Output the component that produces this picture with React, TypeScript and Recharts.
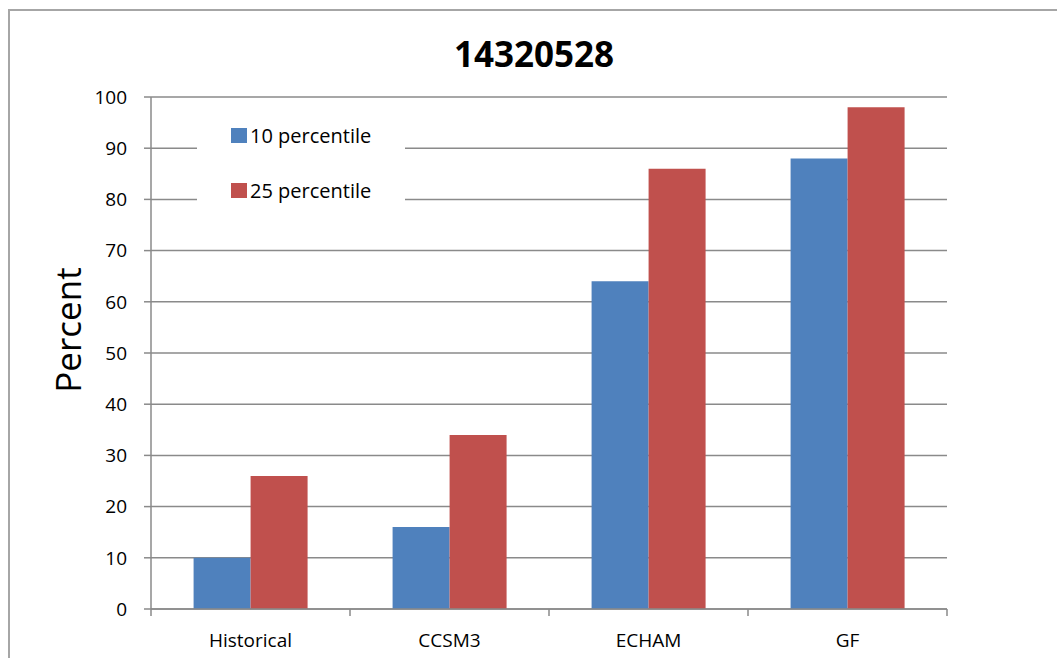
import React from "react";
import { BarChart, Bar, XAxis, YAxis, CartesianGrid, Legend } from "recharts";

// values
const categories = ["Historical", "CCSM3", "ECHAM", "GF"];
const p10 = [10, 16, 64, 88];
const p25 = [26, 34, 86, 98];
const yTicks = [0, 10, 20, 30, 40, 50, 60, 70, 80, 90, 100];

const chartData = categories.map((name, i) => ({ name, p10: p10[i], p25: p25[i] }));

const FONT = "'Open Sans', sans-serif";
const AXIS_GRAY = "#8a8a8a";

// category label plus the little tick marks on the band edges (Excel style)
function CategoryTick(props: any) {
    const { x, y, payload, index, visibleTicksCount } = props;
    const half = payload && payload.offset ? payload.offset : 99.5;
    const last = index === visibleTicksCount - 1;
    return (
        <g>
            <line x1={x - half} x2={x - half} y1={y} y2={y + 7} stroke={AXIS_GRAY} strokeWidth={1.5} />
            {last && <line x1={x + half} x2={x + half} y1={y} y2={y + 7} stroke={AXIS_GRAY} strokeWidth={1.5} />}
            <text x={x} y={y + 38} textAnchor="middle" fill="#000" fontSize={19} fontFamily={FONT}>
                {payload.value}
            </text>
        </g>
    );
}

function LegendBox({ payload }: any) {
    return (
        <div style={{ width: 208, height: 100, background: "#fff", position: "relative" }}>
            {(payload || []).map((entry: any, i: number) => (
                <div
                    key={`leg-${i}`}
                    style={{ position: "absolute", left: 34, top: 13 + i * 55, display: "flex", alignItems: "center", height: 20 }}
                >
                    <span style={{ width: 16, height: 15, background: entry.color, display: "inline-block" }} />
                    <span style={{ marginLeft: 3, fontFamily: FONT, fontSize: 20, color: "#000", whiteSpace: "nowrap" }}>
                        {entry.value}
                    </span>
                </div>
            ))}
        </div>
    );
}

export default function App() {
    return (
        <div style={{ position: "absolute", left: 0, top: 0, width: 1057, height: 658, background: "#fff", overflow: "hidden" }}>
            {/* outer chart frame, only left/top edges visible in the crop */}
            <div style={{ position: "absolute", left: 8, top: 9, width: 1100, height: 700, borderLeft: "2px solid #a6a6a6", borderTop: "2px solid #a6a6a6" }} />
            <div style={{ position: "absolute", left: 0, top: 0 }}>
                <BarChart
                    width={1057}
                    height={658}
                    data={chartData}
                    margin={{ top: 97, right: 110, bottom: 9, left: 91 }}
                    barCategoryGap="21.4%"
                    barGap={0}
                >
                    <CartesianGrid vertical={false} stroke={AXIS_GRAY} strokeWidth={1.5} />
                    <XAxis
                        dataKey="name"
                        height={40}
                        tickSize={0}
                        tickMargin={0}
                        axisLine={{ stroke: AXIS_GRAY, strokeWidth: 1.5 }}
                        tickLine={false}
                        tick={<CategoryTick />}
                        interval={0}
                    />
                    <YAxis
                        width={60}
                        domain={[0, 100]}
                        ticks={yTicks}
                        interval={0}
                        tickSize={7}
                        tickMargin={17}
                        axisLine={{ stroke: AXIS_GRAY, strokeWidth: 1.5 }}
                        tickLine={{ stroke: AXIS_GRAY, strokeWidth: 1.5 }}
                        tick={{ fill: "#000", fontSize: 19, fontFamily: FONT }}
                    />
                    <Legend
                        layout="vertical"
                        align="center"
                        verticalAlign="middle"
                        wrapperStyle={{ left: 197, top: 112, width: 208 }}
                        content={<LegendBox />}
                    />
                    <Bar dataKey="p10" name="10 percentile" fill="#4F81BD" isAnimationActive={false} />
                    <Bar dataKey="p25" name="25 percentile" fill="#C0504D" isAnimationActive={false} />
                </BarChart>
            </div>
            <div style={{ position: "absolute", left: 384, width: 300, top: 30, textAlign: "center", fontFamily: FONT, fontWeight: 700, fontSize: 35, lineHeight: "48px", color: "#000" }}>
                14320528
            </div>
            <div
                style={{
                    position: "absolute",
                    left: 67,
                    top: 330,
                    transform: "translate(-50%, -50%) rotate(-90deg)",
                    fontFamily: FONT,
                    fontSize: 35,
                    color: "#000",
                    whiteSpace: "nowrap",
                }}
            >
                Percent
            </div>
        </div>
    );
}
